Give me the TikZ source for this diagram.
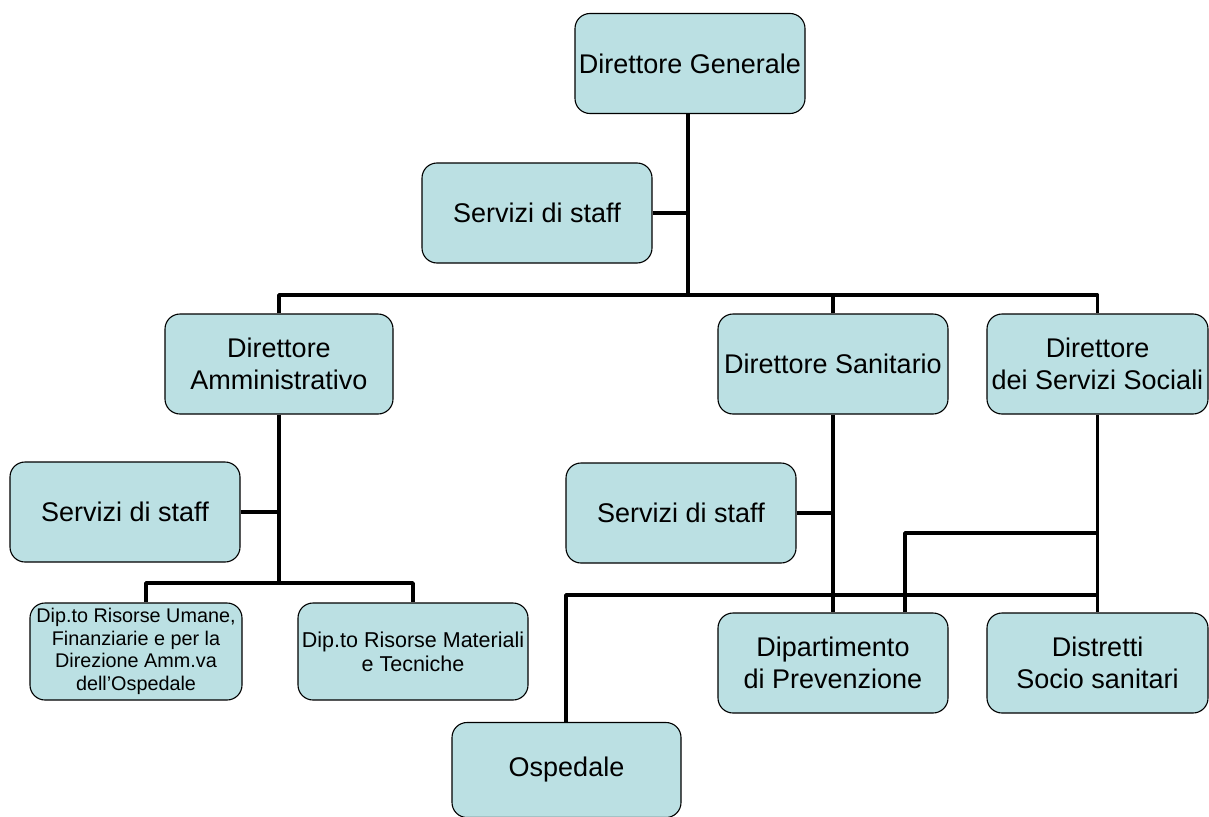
\documentclass[tikz,border=0pt]{standalone}
\usepackage{fontspec}
\setmainfont{Liberation Sans}
\definecolor{boxblue}{RGB}{187,224,227}
\begin{document}
\begin{tikzpicture}[x=1pt, y=-1pt, line join=round,
	box/.style={draw, line width=1.1pt, fill=boxblue, rounded corners=15pt, minimum width=230pt, minimum height=100pt, inner sep=1pt, align=center, font=\fontsize{27}{32}\selectfont},
	small/.style={box, minimum width=212pt, minimum height=97pt, font=\fontsize{19.8}{22.7}\selectfont},
	link/.style={line width=3.8pt}]
	\useasboundingbox (0,0) rectangle (1209,816);
	% boxes
	\node[box] (dg) at (690,63.5) {Direttore Generale};
	\node[box] (sg) at (537,213) {Servizi di staff};
	\node[box, minimum width=228pt] (da) at (279,364) {Direttore\\Amministrativo};
	\node[box] (ds) at (833,364) {Direttore Sanitario};
	\node[box, minimum width=221pt] (dss) at (1097.5,364) {Direttore\\dei Servizi Sociali};
	\node[box] (sa) at (125,512) {Servizi di staff};
	\node[box] (sm) at (681,513) {Servizi di staff};
	\node[small] (ru) at (136,651.5) {Dip.to Risorse Umane,\\Finanziarie e per la\\Direzione Amm.va\\dell’Ospedale};
	\node[small, minimum width=230pt, font=\fontsize{21.5}{24}\selectfont] (rm) at (413,651.5) {Dip.to Risorse Materiali\\e Tecniche};
	\node[box] (pv) at (833,663) {Dipartimento\\di Prevenzione};
	\node[box, minimum width=221pt] (di) at (1097.5,663) {Distretti\\Socio sanitari};
	\node[box, minimum width=229pt, minimum height=95pt] (os) at (566.5,770) {Ospedale};
	% junctions
	\path (688,295) coordinate (top)
	(566,595) coordinate (osbar)
	(905,533) coordinate (pvbar)
	(146,583) coordinate (dabar);
	% connectors
	\draw[link] (dg.south -| top) -- (top);
	\draw[link] (sg.east) -- (sg.east -| top);
	\draw[link] (da.north) |- (top) -| (dss.north);
	\draw[link] (ds.north) -- (ds.north |- top);
	\draw[link] (da) -- (da.south |- dabar);
	\draw[link] (sa.east) -- (sa.east -| da.south);
	\draw[link] (ru.north -| dabar) -- (dabar) -| (rm.north);
	\draw[link] (ds) -- (pv);
	\draw[link] (sm.east) -- (sm.east -| ds.south);
	\draw[link] (dss) -- (di);
	\draw[link] (dss.south |- pvbar) -- (pvbar) -- (pvbar |- pv.north);
	\draw[link] (os.north -| osbar) -- (osbar) -- (osbar -| dss.south);
\end{tikzpicture}
\end{document}
